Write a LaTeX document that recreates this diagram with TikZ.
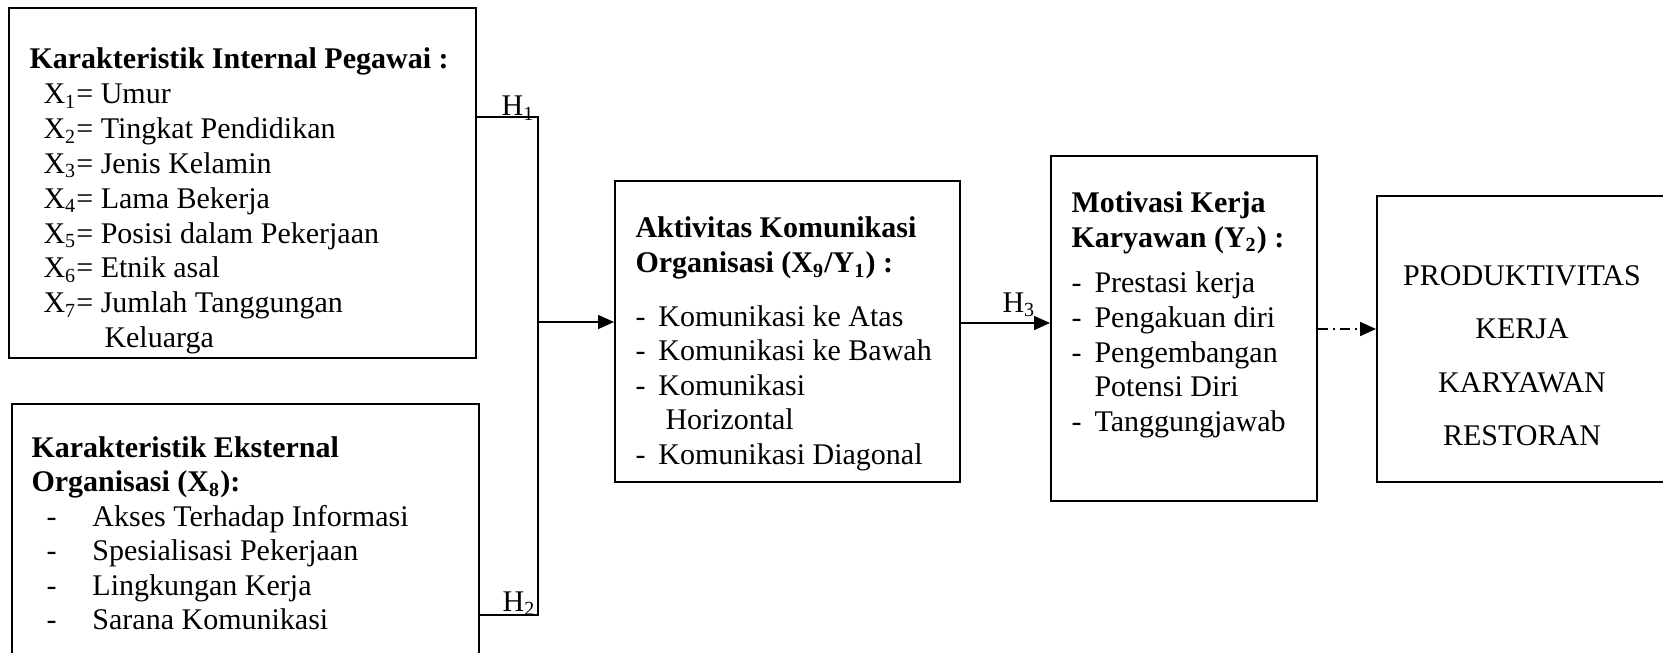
\documentclass[tikz,border=0pt]{standalone}
\usepackage{fontspec}
\setmainfont{Liberation Serif}
\usetikzlibrary{arrows.meta,fit}
\begin{document}
\begin{tikzpicture}[x=0.4pt,y=-0.4pt,
  box/.style={draw,line width=0.8pt,inner sep=0pt,rectangle},
  txt/.style={inner sep=0pt,anchor=base west,font=\fontsize{12}{13.8}\selectfont},
  conn/.style={line width=0.7pt},
  arr/.style={conn,-{Triangle[length=6.4pt,width=5.6pt]}},
  hl/.style={inner sep=0pt,anchor=base east,font=\fontsize{12}{13.8}\selectfont},
  dashdotline/.style={dash pattern=on 4pt off 2pt on 0.8pt off 2pt}]
\useasboundingbox (0,0) rectangle (1663,652);
\clip (0,0) rectangle (1663,652);
% boxes
\node[box,fit={(9,8) (476,358)}] (b1) {};
\node[box,fit={(12,404) (479,665)}] (b2) {};
\node[box,fit={(615,181) (960,482)}] (b3) {};
\node[box,fit={(1051,156) (1317,501)}] (b4) {};
\node[box,fit={(1377,196) (1670,482)}] (b5) {};
% texts
\node[txt,font=\fontsize{12}{13.92}\selectfont] (t1) at (29,69) {\begin{tabular}[t]{@{}l@{}}
\textbf{Karakteristik Internal Pegawai :}\\
\hspace{5.6pt}X\textsubscript{1}= Umur\\
\hspace{5.6pt}X\textsubscript{2}= Tingkat Pendidikan\\
\hspace{5.6pt}X\textsubscript{3}= Jenis Kelamin\\
\hspace{5.6pt}X\textsubscript{4}= Lama Bekerja\\
\hspace{5.6pt}X\textsubscript{5}= Posisi dalam Pekerjaan\\
\hspace{5.6pt}X\textsubscript{6}= Etnik asal\\
\hspace{5.6pt}X\textsubscript{7}= Jumlah Tanggungan\\
\hspace{30pt}Keluarga
\end{tabular}};
\node[txt] (t2) at (31,457) {\begin{tabular}[t]{@{}l@{}}
\textbf{Karakteristik Eksternal}\\
\textbf{Organisasi (X\textsubscript{8}):}\\
\hspace{6pt}\makebox[18.4pt][l]{-}Akses Terhadap Informasi\\
\hspace{6pt}\makebox[18.4pt][l]{-}Spesialisasi Pekerjaan\\
\hspace{6pt}\makebox[18.4pt][l]{-}Lingkungan Kerja\\
\hspace{6pt}\makebox[18.4pt][l]{-}Sarana Komunikasi
\end{tabular}};
\node[txt] (t3) at (635,238) {\begin{tabular}[t]{@{}l@{}}
\textbf{Aktivitas Komunikasi}\\
\textbf{Organisasi (X\textsubscript{9}/Y\textsubscript{1}) :}\\[7.6pt]
\makebox[9.2pt][l]{-}Komunikasi ke Atas\\
\makebox[9.2pt][l]{-}Komunikasi ke Bawah\\
\makebox[9.2pt][l]{-}Komunikasi\\
\hspace{12pt}Horizontal\\
\makebox[9.2pt][l]{-}Komunikasi Diagonal
\end{tabular}};
\node[txt] (t4) at (1071,213) {\begin{tabular}[t]{@{}l@{}}
\textbf{Motivasi Kerja}\\
\textbf{Karyawan (Y\textsubscript{2}) :}\\[4.4pt]
\makebox[9.2pt][l]{-}Prestasi kerja\\
\makebox[9.2pt][l]{-}Pengakuan diri\\
\makebox[9.2pt][l]{-}Pengembangan\\
\hspace{9.2pt}Potensi Diri\\
\makebox[9.2pt][l]{-}Tanggungjawab
\end{tabular}};
\node[inner sep=0pt,anchor=base,font=\fontsize{12}{21.4}\selectfont] (t5) at (1522,285) {\begin{tabular}[t]{@{}c@{}}
PRODUKTIVITAS\\
KERJA\\
KARYAWAN\\
RESTORAN
\end{tabular}};
% connectors
\coordinate (j1) at (538,117);
\coordinate (j2) at (538,615);
\coordinate (j3) at (538,322);
\coordinate (k3) at (1000,323);
\coordinate (k4) at (1340,329);
\draw[conn] (b1.east |- j1) -- (j1) -- (j2) -- (b2.east |- j2);
\draw[arr] (j3) -- (b3.west |- j3);
\draw[arr] (b3.east |- k3) -- (b4.west |- k3);
\draw[arr,dashdotline] (b4.east |- k4) -- (b5.west |- k4);
% labels
\node[hl] (h1) at (535,116) {H\textsubscript{1}};
\node[hl] (h2) at (536,611) {H\textsubscript{2}};
\node[txt] (h3) at (1002,312) {H\textsubscript{3}};
\end{tikzpicture}
\end{document}
